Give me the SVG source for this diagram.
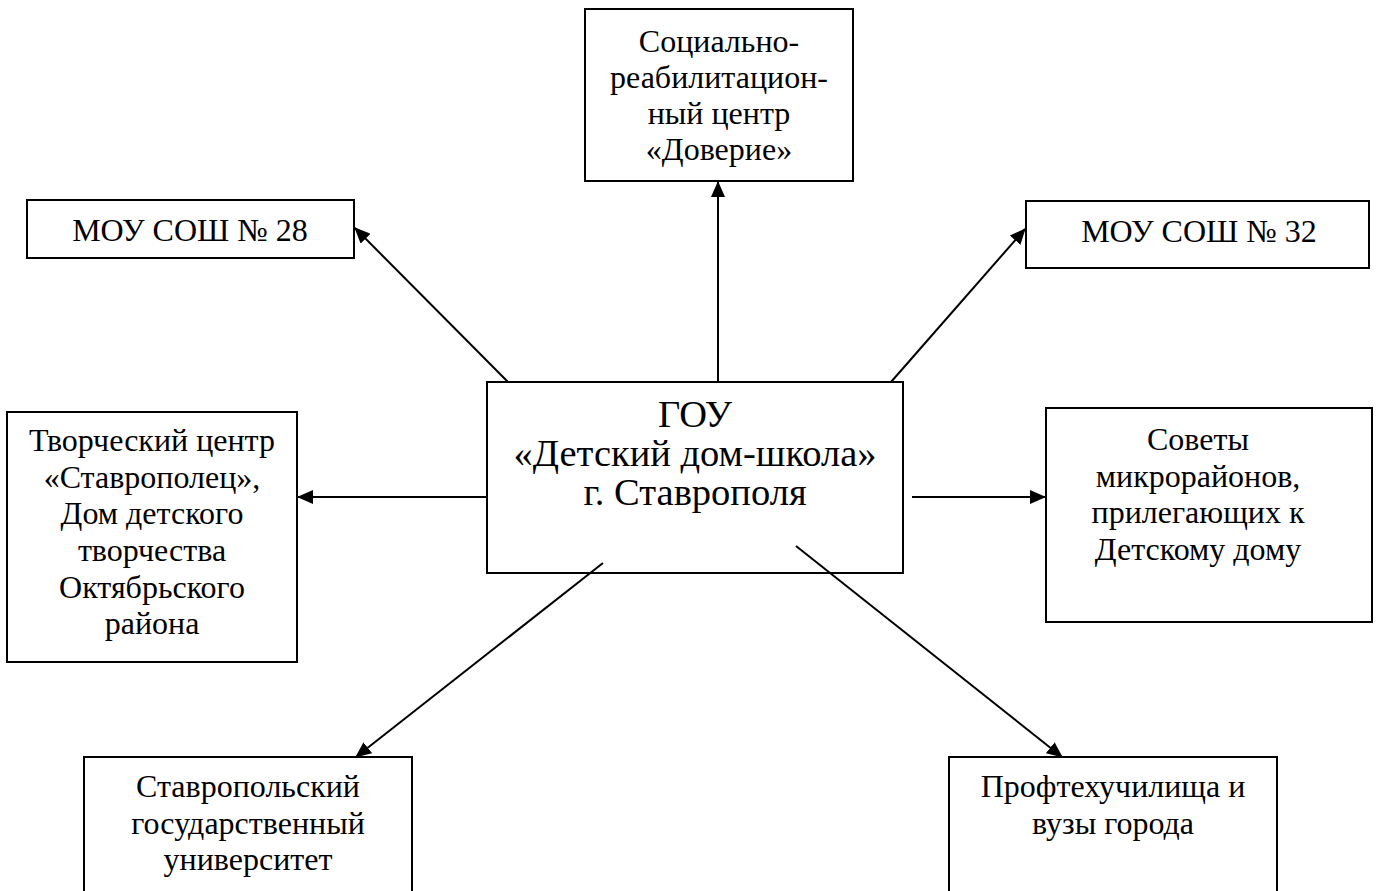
<svg xmlns="http://www.w3.org/2000/svg" width="1380" height="891" viewBox="0 0 1380 891">
<style>
.box{fill:#fff;stroke:#000;stroke-width:2}
.t{font-family:"Liberation Serif","Times New Roman",serif;font-size:32px;fill:#000;text-anchor:middle}
.tc{font-family:"Liberation Serif","Times New Roman",serif;font-size:38.5px;fill:#000;text-anchor:middle}
.c{stroke:#000;stroke-width:2;fill:none;marker-end:url(#ah)}
</style>
<defs>
<marker id="ah" markerUnits="userSpaceOnUse" markerWidth="16" markerHeight="14" refX="15" refY="7" orient="auto">
<path d="M0,0 L16,7 L0,14 Z" fill="#000"/>
</marker>
</defs>
<rect width="1380" height="891" fill="#fff"/>
<g id="node-center">
<rect class="box" x="487" y="382" width="416" height="191"/>
<text class="tc" x="695" y="427">ГОУ</text>
<text class="tc" x="695" y="466">«Детский дом-школа»</text>
<text class="tc" x="695" y="505">г. Ставрополя</text>
</g>
<g id="node-top">
<rect class="box" x="585" y="9" width="268" height="172"/>
<text class="t" x="719" y="52">Социально-</text>
<text class="t" x="719" y="88">реабилитацион-</text>
<text class="t" x="719" y="124">ный центр</text>
<text class="t" x="719" y="160">«Доверие»</text>
</g>
<g id="node-sosh28">
<rect class="box" x="27" y="200" width="327" height="58"/>
<text class="t" x="190" y="241">МОУ СОШ № 28</text>
</g>
<g id="node-sosh32">
<rect class="box" x="1026" y="201" width="343" height="67"/>
<text class="t" x="1199" y="242">МОУ СОШ № 32</text>
</g>
<g id="node-left">
<rect class="box" x="7" y="412" width="290" height="250"/>
<text class="t" x="152" y="451">Творческий центр</text>
<text class="t" x="152" y="488">«Ставрополец»,</text>
<text class="t" x="152" y="524">Дом детского</text>
<text class="t" x="152" y="561">творчества</text>
<text class="t" x="152" y="598">Октябрьского</text>
<text class="t" x="152" y="634">района</text>
</g>
<g id="node-right">
<rect class="box" x="1046" y="408" width="326" height="214"/>
<text class="t" x="1198" y="450">Советы</text>
<text class="t" x="1198" y="487">микрорайонов,</text>
<text class="t" x="1198" y="523">прилегающих к</text>
<text class="t" x="1198" y="560">Детскому дому</text>
</g>
<g id="node-bottom-left">
<rect class="box" x="84" y="757" width="328" height="150"/>
<text class="t" x="248" y="797">Ставропольский</text>
<text class="t" x="248" y="834">государственный</text>
<text class="t" x="248" y="870">университет</text>
</g>
<g id="node-bottom-right">
<rect class="box" x="949" y="757" width="328" height="150"/>
<text class="t" x="1113" y="797">Профтехучилища и</text>
<text class="t" x="1113" y="834">вузы города</text>
</g>
<g id="connectors">
<line class="c" x1="718" y1="382" x2="718" y2="182"/>
<line class="c" x1="508" y1="382" x2="355" y2="228"/>
<line class="c" x1="891" y1="382" x2="1025" y2="229"/>
<line class="c" x1="487" y1="497" x2="298" y2="497"/>
<line class="c" x1="912" y1="497" x2="1045" y2="497"/>
<line class="c" x1="603" y1="563" x2="356" y2="757"/>
<line class="c" x1="796" y1="546" x2="1062" y2="757"/>
</g>
</svg>
